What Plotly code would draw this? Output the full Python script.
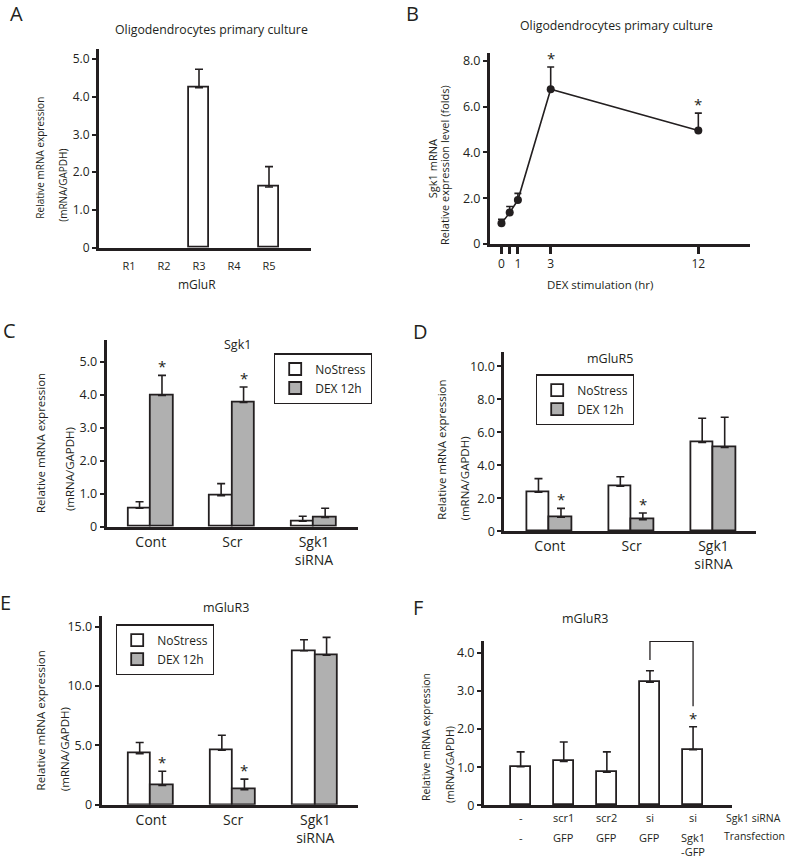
import plotly.graph_objects as go

W, H = 787, 866
FONT = "Open Sans"
INK = "#231f20"
GRAY = "#b0b0b0"

# ---------------- data ----------------
# Panel A
a_receptors = ["R1", "R2", "R3", "R4", "R5"]
a_expr = [0, 0, 4.24, 0, 1.61]
a_err = [0, 0, 0.49, 0, 0.54]
a_yticks = [0, 1, 2, 3, 4, 5]
a_yticktext = ["0", "1.0", "2.0", "3.0", "4.0", "5.0"]

# Panel B
b_hours = [0, 0.5, 1, 3, 12]
b_ticktext = ["0", "", "1", "3", "12"]
b_fold = [0.90, 1.37, 1.92, 6.76, 4.96]
b_err = [0.18, 0.27, 0.29, 0.98, 0.76]
b_sig = [False, False, False, True, True]
b_yticks = [0, 2, 4, 6, 8]
b_yticktext = ["0", "2.0", "4.0", "6.0", "8.0"]

# Panels C-E groups
groups = ["Cont", "Scr", "Sgk1<br>siRNA"]
series_names = ["NoStress", "DEX 12h"]

c_nostress = [0.56, 0.94, 0.17]
c_nostress_err = [0.20, 0.37, 0.15]
c_dex = [3.98, 3.77, 0.28]
c_dex_err = [0.61, 0.47, 0.28]
c_dex_sig = [True, True, False]
c_yticks = [0, 1, 2, 3, 4, 5]
c_yticktext = ["0", "1.0", "2.0", "3.0", "4.0", "5.0"]

d_nostress = [2.36, 2.72, 5.38]
d_nostress_err = [0.82, 0.58, 1.46]
d_dex = [0.84, 0.70, 5.08]
d_dex_err = [0.54, 0.40, 1.82]
d_dex_sig = [True, True, False]
d_yticks = [0, 2, 4, 6, 8, 10]
d_yticktext = ["0", "2.0", "4.0", "6.0", "8.0", "10.0"]

e_nostress = [4.31, 4.61, 12.97]
e_nostress_err = [0.94, 1.25, 0.93]
e_dex = [1.64, 1.28, 12.60]
e_dex_err = [1.19, 0.89, 1.50]
e_dex_sig = [True, True, False]
e_yticks = [0, 5, 10, 15]
e_yticktext = ["0", "5.0", "10.0", "15.0"]

# Panel F
f_sirna = ["-", "scr1", "scr2", "si", "si"]
f_transfection = ["-", "GFP", "GFP", "GFP", "Sgk1<br>-GFP"]
f_expr = [1.01, 1.15, 0.87, 3.23, 1.46]
f_err = [0.39, 0.51, 0.53, 0.30, 0.60]
f_sig = [False, False, False, False, True]
f_yticks = [0, 1, 2, 3, 4]
f_yticktext = ["0", "1.0", "2.0", "3.0", "4.0"]

AXW = 3.0     # axis line width
BARW = 1.8    # bar outline width


# ---------------- helpers ----------------
def xdom(left, right):
    return [left / W, right / W]


def ydom(top, bottom):
    return [1 - bottom / H, 1 - top / H]


def yaxis(dom, rng, tv, tt, anchor, size=12.5):
    return dict(domain=dom, range=rng, anchor=anchor, showline=True, linecolor=INK,
                linewidth=AXW, ticks="outside", ticklen=4, tickwidth=2, tickcolor=INK,
                tickvals=tv, ticktext=tt, showgrid=False, zeroline=False,
                tickfont=dict(family=FONT, size=size, color=INK))


def xaxis(dom, rng, tv, tt, anchor, size=14, ticklen=0):
    return dict(domain=dom, range=rng, anchor=anchor, showline=True, linecolor=INK,
                linewidth=AXW, ticks="outside" if ticklen else "", ticklen=ticklen,
                tickcolor="rgba(0,0,0,0)", tickvals=tv, ticktext=tt, showgrid=False,
                zeroline=False, tickfont=dict(family=FONT, size=size, color=INK))


def err(arr):
    return dict(type="data", array=arr, arrayminus=[0] * len(arr), symmetric=False,
                color=INK, thickness=1.6, width=4)


def ann(text, x, y, size, **kw):
    d = dict(text=text, x=x / W, y=1 - y / H, xref="paper", yref="paper", showarrow=False,
             font=dict(family=FONT, size=size, color=INK), xanchor="center", yanchor="middle")
    d.update(kw)
    return d


def star(x, y, xref, yref):
    return dict(text="*", x=x, y=y, xref=xref, yref=yref, showarrow=False,
                font=dict(family=FONT, size=15, color=INK), yanchor="bottom", yshift=-3)


fig = go.Figure()
annotations = []

# ---------------- Panel A ----------------
# undetected receptors (value 0) draw no bar
a_x = list(range(len(a_receptors)))
a_plot = [v if v > 0 else None for v in a_expr]
fig.add_trace(go.Bar(x=a_x, y=a_plot, width=0.57,
                     marker=dict(color="white", line=dict(color=INK, width=BARW)),
                     error_y=err(a_err), showlegend=False, xaxis="x", yaxis="y"))

# ---------------- Panel B ----------------
fig.add_trace(go.Scatter(x=b_hours, y=b_fold, mode="lines+markers",
                         line=dict(color=INK, width=1.6), marker=dict(color=INK, size=8),
                         error_y=dict(type="data", array=b_err, arrayminus=[0] * len(b_err),
                                      symmetric=False, color=INK, thickness=1.6, width=3.5),
                         showlegend=False, xaxis="x2", yaxis="y2"))
for h, v, e, s in zip(b_hours, b_fold, b_err, b_sig):
    if s:
        annotations.append(star(h, v + e, "x2", "y2"))

# ---------------- Panels C, D, E ----------------
BW = 0.275
panels = [
    ("x3", "y3", "legend", c_nostress, c_nostress_err, c_dex, c_dex_err, c_dex_sig),
    ("x4", "y4", "legend2", d_nostress, d_nostress_err, d_dex, d_dex_err, d_dex_sig),
    ("x5", "y5", "legend3", e_nostress, e_nostress_err, e_dex, e_dex_err, e_dex_sig),
]
gx = list(range(len(groups)))
for xa, ya, lg, ns, nse, dx_, dxe, sig in panels:
    fig.add_trace(go.Bar(x=gx, y=ns, width=BW, offset=-BW, name=series_names[0],
                         marker=dict(color="white", line=dict(color=INK, width=BARW)),
                         error_y=err(nse), legend=lg, xaxis=xa, yaxis=ya))
    fig.add_trace(go.Bar(x=gx, y=dx_, width=BW, offset=0, name=series_names[1],
                         marker=dict(color=GRAY, line=dict(color=INK, width=BARW)),
                         error_y=err(dxe), legend=lg, xaxis=xa, yaxis=ya))
    for i, (v, e, s) in enumerate(zip(dx_, dxe, sig)):
        if s:
            annotations.append(star(i + BW / 2, v + e, xa, ya))

# ---------------- Panel F ----------------
f_x = list(range(len(f_expr)))
fig.add_trace(go.Bar(x=f_x, y=f_expr, width=0.46,
                     marker=dict(color="white", line=dict(color=INK, width=BARW)),
                     error_y=err(f_err), showlegend=False, xaxis="x6", yaxis="y6"))
for i, (v, e, s) in enumerate(zip(f_expr, f_err, f_sig)):
    if s:
        annotations.append(star(i, v + e, "x6", "y6"))
for i, (r1, r2) in enumerate(zip(f_sirna, f_transfection)):
    annotations.append(dict(text=r1, x=i, y=1 - 825.3 / H, xref="x6", yref="paper", showarrow=False,
                            font=dict(family=FONT, size=11, color=INK), yanchor="middle"))
    annotations.append(dict(text=r2, x=i, y=1 - 836 / H, xref="x6", yref="paper", showarrow=False,
                            font=dict(family=FONT, size=11, color=INK), yanchor="top"))
annotations.append(ann("Sgk1 siRNA", 724, 825.3, 10.5, xanchor="left"))
annotations.append(ann("Transfection", 722, 844, 10.5, xanchor="left"))

shapes = [dict(type="path", path="M 3,3.81 L 3,4.30 L 4,4.30 L 4,2.60", xref="x6", yref="y6",
               line=dict(color=INK, width=1.3))]

# ---------------- text ----------------
annotations += [
    ann("A", 16.5, 12.5, 20), ann("B", 412.5, 12.5, 20), ann("C", 9, 332.5, 20),
    ann("D", 420, 334, 20), ann("E", 5, 607.5, 20), ann("F", 418, 613, 20),
    ann("Oligodendrocytes primary culture", 212, 29, 12.3),
    ann("Oligodendrocytes primary culture", 616, 25, 12.3),
    ann("mGluR", 197, 286, 12),
    ann("DEX stimulation (hr)", 600, 286, 11.5),
    ann("Sgk1", 237, 347, 12.5),
    ann("mGluR5", 610, 361, 12.5),
    ann("mGluR3", 225.7, 613.3, 12.5),
    ann("mGluR3", 585, 624, 12.5),
    # y titles
    ann("Relative mRNA expression", 40, 158.3, 10, textangle=-90),
    ann("(mRNA/GAPDH)", 63, 186.7, 10, textangle=-90),
    ann("Sgk1 mRNA", 432, 170, 11, textangle=-90),
    ann("Relative expression level (folds)", 444.7, 166, 11, textangle=-90),
    ann("Relative mRNA expression", 40, 446.7, 11.5, textangle=-90),
    ann("(mRNA/GAPDH)", 69, 473, 11.5, textangle=-90),
    ann("Relative mRNA expression", 441.7, 453.7, 11.5, textangle=-90),
    ann("(mRNA/GAPDH)", 464, 482.5, 11.5, textangle=-90),
    ann("Relative mRNA expression", 40, 727, 11.5, textangle=-90),
    ann("(mRNA/GAPDH)", 64, 756, 11.5, textangle=-90),
    ann("Relative mRNA expression", 426.7, 744, 10.5, textangle=-90),
    ann("(mRNA/GAPDH)", 450, 771, 10.5, textangle=-90),
]


def legend_cfg(left, top):
    return dict(x=left / W, y=1 - top / H, xanchor="left", yanchor="top", bgcolor="white",
                bordercolor=INK, borderwidth=1.2, font=dict(family=FONT, size=12, color=INK),
                itemwidth=30, tracegroupgap=0)


fig.update_layout(
    width=W, height=H, margin=dict(l=0, r=0, t=0, b=0),
    paper_bgcolor="white", plot_bgcolor="white",
    font=dict(family=FONT, color=INK),
    bargap=0, hovermode=False,
    xaxis=xaxis(xdom(99, 311), [-0.857, 5.2], a_x, a_receptors, "y", size=11, ticklen=6),
    yaxis=yaxis(ydom(48, 249.3), [0, 5.28], a_yticks, a_yticktext, "x", size=12),
    xaxis2=dict(domain=xdom(490, 750), range=[-0.70, 15.15], anchor="y2", showline=True,
                linecolor=INK, linewidth=AXW, ticks="outside", ticklen=7, tickwidth=2.5,
                tickcolor=INK, tickvals=b_hours, ticktext=b_ticktext, showgrid=False,
                zeroline=False, tickfont=dict(family=FONT, size=12, color=INK)),
    yaxis2=yaxis(ydom(53, 245.5), [0, 8.33], b_yticks, b_yticktext, "x2"),
    xaxis3=xaxis(xdom(106.7, 358), [-0.54, 2.54], gx, groups, "y3"),
    yaxis3=yaxis(ydom(343, 531.3), [0, 5.65], c_yticks, c_yticktext, "x3"),
    xaxis4=xaxis(xdom(504.3, 756), [-0.555, 2.52], gx, groups, "y4"),
    yaxis4=yaxis(ydom(355, 535.7), [0, 10.84], d_yticks, d_yticktext, "x4"),
    xaxis5=xaxis(xdom(101.7, 358), [-0.60, 2.52], gx, groups, "y5"),
    yaxis5=yaxis(ydom(621.7, 812.3), [0, 15.88], e_yticks, e_yticktext, "x5"),
    xaxis6=dict(domain=xdom(484, 732.3), range=[-0.85, 4.91], anchor="y6", showline=True,
                linecolor=INK, linewidth=AXW, showticklabels=False, ticks="", showgrid=False,
                zeroline=False),
    yaxis6=yaxis(ydom(646.7, 812.7), [0, 4.312], f_yticks, f_yticktext, "x6"),
    legend=legend_cfg(274, 356),
    legend2=legend_cfg(536, 377.3),
    legend3=legend_cfg(116, 630),
    annotations=annotations,
    shapes=shapes,
)

fig.write_html("out.html",
               config={"displayModeBar": False},
               post_script="document.body.style.margin='0';document.body.style.overflow='hidden';")
